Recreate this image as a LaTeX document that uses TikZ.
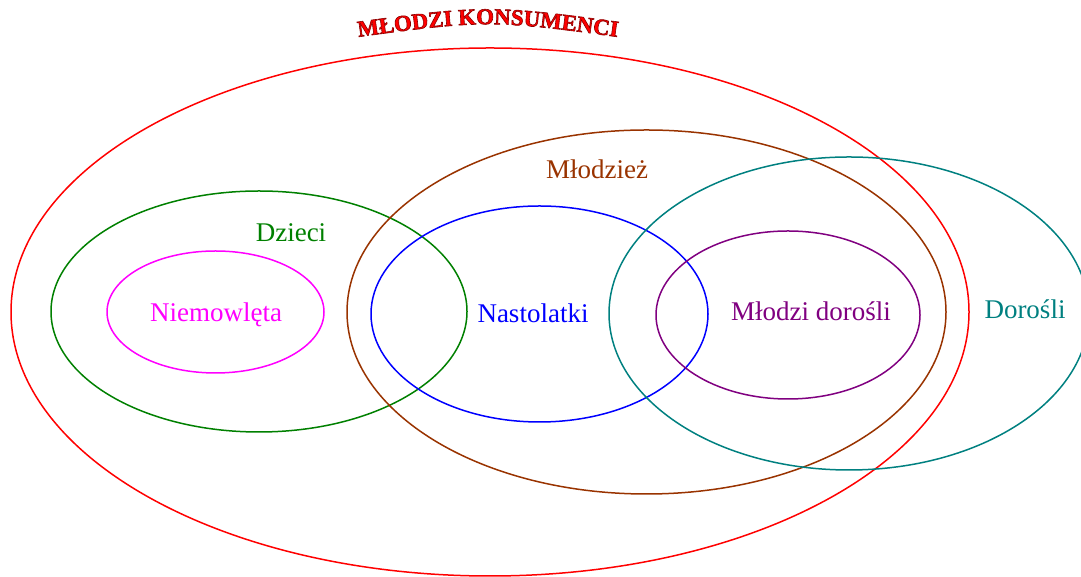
\documentclass[tikz,border=0pt]{standalone}
\usepackage{fontspec}
\setmainfont{Liberation Serif}
\usetikzlibrary{shapes.geometric,decorations.text}
\definecolor{cred}{HTML}{FF0000}
\definecolor{cbrown}{HTML}{993300}
\definecolor{cteal}{HTML}{008080}
\definecolor{cgreen}{HTML}{008000}
\definecolor{cblue}{HTML}{0000FF}
\definecolor{cpurple}{HTML}{800080}
\definecolor{cmagenta}{HTML}{FF00FF}
\tikzset{
  group/.style={ellipse, draw=#1, line width=1.5pt, inner sep=0pt, fill=none},
  grouplabel/.style={text=#1, anchor=base, inner sep=0pt, font=\fontsize{27}{32}\selectfont},
}
% red letters with a dark red stroked edge
\newcommand\edgedred{\color{cred}\special{pdf:literal direct 0.55 0 0 RG 0.6 w 2 Tr}}
\begin{document}
\begin{tikzpicture}[x=1pt,y=1pt]
\useasboundingbox (0,0) rectangle (1081,577);
% sets
\node[group=cred, minimum width=958pt, minimum height=528pt] (konsumenci) at (490,265) {};
\node[group=cgreen, minimum width=416pt, minimum height=241pt] (dzieci) at (259,265.5) {};
\node[group=cmagenta, minimum width=217pt, minimum height=122pt] (niemowleta) at (215.5,265) {};
\node[group=cbrown, minimum width=599pt, minimum height=364pt] (mlodziez) at (646.5,265) {};
\node[group=cblue, minimum width=337pt, minimum height=216pt] (nastolatki) at (539.5,263) {};
\node[group=cteal, minimum width=480pt, minimum height=313pt] (dorosli) at (849,263.5) {};
\node[group=cpurple, minimum width=264pt, minimum height=168pt] (mlodzidorosli) at (788,262) {};
% labels
\node[grouplabel=cgreen] (tdzieci) at (291,335) {Dzieci};
\node[grouplabel=cmagenta] (tniemowleta) at (216,255) {Niemowlęta};
\node[grouplabel=cbrown] (tmlodziez) at (597,398) {Młodzież};
\node[grouplabel=cblue] (tnastolatki) at (533,254) {Nastolatki};
\node[grouplabel=cpurple] (tmlodzidorosli) at (811,256) {Młodzi dorośli};
\node[grouplabel=cteal] (tdorosli) at (1025,258) {Dorośli};
% arched title
\begin{scope}
\path[decorate, decoration={text along path, text align=center,
  text={|\fontsize{22.8}{27}\selectfont\bfseries\edgedred|MŁODZI KONSUMENCI}}]
  (336,537) .. controls (488,558) .. (640,537);
\special{pdf:literal direct 0 Tr}%
\end{scope}
\end{tikzpicture}
\end{document}
